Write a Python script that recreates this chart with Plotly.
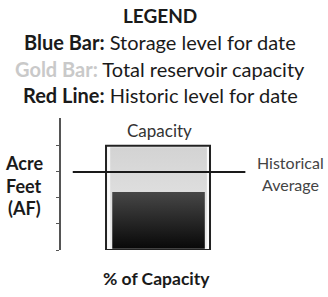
import plotly.graph_objects as go

# ---- data ----
categories = ["Reservoir"]
capacity_value = [4.0]        # total reservoir capacity (axis units)
storage_value = [2.23]        # storage level for date
historic_value = [3.0]        # historic level for date
y_ticks = [0, 1, 2, 3, 4]

W, H = 328, 297
ML, MT = 61, 118
PW = 262 - 61
PH = 250 - 118
MR = W - ML - PW
MB = H - MT - PH

cap_w = 1.0
fill_x = [-0.46, 0.47]
sto_x = [-0.44, 0.45]
line_x = [-0.82, 0.84]

fig = go.Figure()

# capacity bar outline
fig.add_trace(go.Bar(x=[0], y=capacity_value, width=cap_w,
                     marker=dict(color="#fafafa", line=dict(color="#222222", width=2)),
                     hoverinfo="skip"))
# capacity inner fill (light gradient)
c = capacity_value[0] - 0.05
fx0, fx1 = fill_x
fig.add_trace(go.Scatter(x=[fx0, fx1, fx1, fx0, fx0], y=[0.05, 0.05, c, c, 0.05], mode="lines",
                         line=dict(width=0), fill="toself",
                         fillgradient=dict(type="vertical",
                                           colorscale=[[0, "#ebebeb"], [1, "#d3d3d3"]]),
                         hoverinfo="skip"))
# storage bar with gradient
x0, x1 = sto_x
s = storage_value[0]
fig.add_trace(go.Scatter(x=[x0, x1, x1, x0, x0], y=[0.05, 0.05, s, s, 0.05], mode="lines",
                         line=dict(width=0), fill="toself",
                         fillgradient=dict(type="vertical",
                                           colorscale=[[0, "#080808"], [1, "#474747"]]),
                         hoverinfo="skip"))
# historic line
fig.add_trace(go.Scatter(x=line_x, y=historic_value * 2, mode="lines",
                         line=dict(color="#1a1a1a", width=2), hoverinfo="skip"))

fig.update_layout(
    width=W, height=H, margin=dict(l=ML, r=MR, t=MT, b=MB),
    plot_bgcolor="white", paper_bgcolor="white", showlegend=False,
    barmode="overlay",
    xaxis=dict(range=[-0.933, 1.0], visible=False, fixedrange=True),
    yaxis=dict(range=[0, 5.07], showgrid=False, zeroline=False, showline=True,
               linecolor="#555", linewidth=1.5, tickvals=y_ticks, ticks="outside",
               ticklen=3, tickcolor="#555", showticklabels=False, fixedrange=True),
    font=dict(family="Lato, sans-serif", color="#1e1e1e"),
)

def px(xp, yp):
    return (xp - ML) / PW, (H - MB - yp) / PH

def txt(text, xp, yp, size, color="#1a1a1a"):
    x, y = px(xp, yp)
    fig.add_annotation(text=text, x=x, y=y, xref="paper", yref="paper",
                       showarrow=False, xanchor="center", yanchor="middle",
                       font=dict(size=size, color=color, family="Lato, sans-serif"))

txt("<b>LEGEND</b>", 160, 15, 19)
txt("<b>Blue Bar:</b> Storage level for date", 160, 42, 20)
txt("<b><span style='color:#c9c9c9'>Gold Bar:</span></b> Total reservoir capacity", 160, 69, 20)
txt("<b>Red Line:</b> Historic level for date", 160, 95, 20)
txt("Capacity", 159, 130, 17, "#333")
txt("<b>Acre</b>", 24, 163, 18)
txt("<b>Feet</b>", 24, 186, 18)
txt("<b>(AF)</b>", 24, 208, 18)
txt("Historical", 290, 162, 16, "#444")
txt("Average", 290, 184, 16, "#444")
txt("<b>% of Capacity</b>", 156, 278, 17.5)

fig.write_html("out.html", config={"displayModeBar": False},
               post_script="document.body.style.margin='0';")
